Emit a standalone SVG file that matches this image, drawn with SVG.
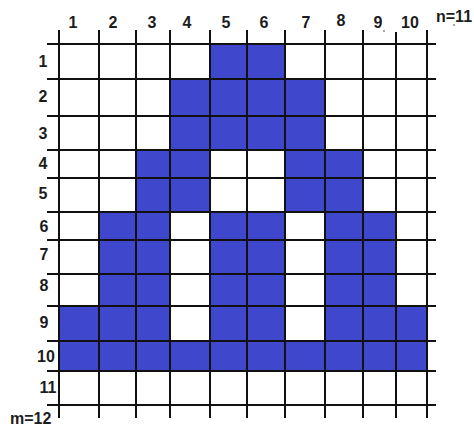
<svg xmlns="http://www.w3.org/2000/svg" width="474" height="429" viewBox="0 0 474 429">
<style>
.fill{fill:#3F48CC}
.ln{stroke:#111;stroke-width:2;fill:none}
.lb{font-family:"Liberation Sans",Arial,sans-serif;font-weight:bold;font-size:16px;fill:#1c1c1c;text-anchor:middle}
.ls{font-family:"Liberation Sans",Arial,sans-serif;font-weight:bold;font-size:16px;fill:#1c1c1c;text-anchor:start}
</style>
<rect width="474" height="429" fill="#fff"/>
<g id="cells">
<rect class="fill" x="210" y="44" width="75" height="35"/>
<rect class="fill" x="170" y="79" width="155" height="71"/>
<rect class="fill" x="136" y="150" width="74" height="62"/>
<rect class="fill" x="285" y="150" width="78" height="62"/>
<rect class="fill" x="99" y="212" width="71" height="94"/>
<rect class="fill" x="210" y="212" width="75" height="94"/>
<rect class="fill" x="325" y="212" width="71" height="94"/>
<rect class="fill" x="59" y="306" width="111" height="35"/>
<rect class="fill" x="210" y="306" width="75" height="35"/>
<rect class="fill" x="325" y="306" width="102" height="35"/>
<rect class="fill" x="59" y="341" width="368" height="30"/>
</g>
<g id="grid" class="ln">
<path d="M59 30V418M99 30V418M136 30V418M170 30V418M210 30V418M247 30V418M285 30V418M325 30V418M363 30V418M396 32V418M427 30V418"/>
<path d="M47 44H436M47 79H436M47 116H436M47 150H436M47 178H436M47 212H436M47 240H436M47 274H436M47 306H436M47 341H436M47 371H436M47 405H436"/>
</g>
<g id="col-labels">
<text class="lb" x="73" y="28">1</text>
<text class="lb" x="113" y="28">2</text>
<text class="lb" x="152" y="28">3</text>
<text class="lb" x="187" y="28">4</text>
<text class="lb" x="226" y="28">5</text>
<text class="lb" x="264" y="28">6</text>
<text class="lb" x="306" y="28">7</text>
<text class="lb" x="341" y="26">8</text>
<text class="lb" x="378" y="28">9</text>
<text class="lb" x="410" y="28">10</text>
<text class="ls" x="436" y="22">n=11</text>
<circle cx="384" cy="31" r="0.8" fill="#333"/>
<circle cx="454" cy="25" r="0.8" fill="#333"/>
</g>
<g id="row-labels">
<text class="lb" x="43" y="67">1</text>
<text class="lb" x="43" y="102">2</text>
<text class="lb" x="43" y="139">3</text>
<text class="lb" x="43" y="169">4</text>
<text class="lb" x="43" y="199">5</text>
<text class="lb" x="44" y="232">6</text>
<text class="lb" x="44" y="260">7</text>
<text class="lb" x="44" y="291">8</text>
<text class="lb" x="44" y="328">9</text>
<text class="lb" x="46" y="362">10</text>
<text class="lb" x="48" y="393">11</text>
<text class="ls" x="10" y="424">m=12</text>
</g>
</svg>
